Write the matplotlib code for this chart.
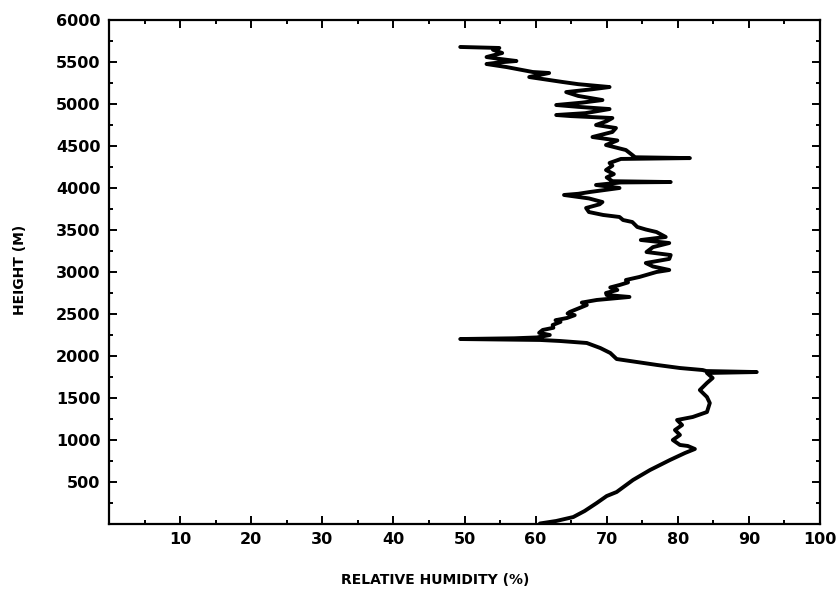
import matplotlib
matplotlib.use("Agg")
import matplotlib.pyplot as plt
from matplotlib.ticker import MultipleLocator, FixedLocator

# Relative humidity (%) vs height (m)
height = [0, 30, 77, 149, 244, 327, 375, 518, 637, 756, 839, 887, 923, 935, 994,
          1054, 1113, 1172, 1232, 1268, 1327, 1434, 1506, 1589, 1673, 1732, 1792,
          1803, 1815, 1827, 1851, 1887, 1958, 2030, 2089, 2149, 2173, 2185, 2196,
          2205, 2215, 2244, 2270, 2304, 2330, 2363, 2400, 2420, 2446, 2480, 2500,
          2518, 2560, 2601, 2630, 2661, 2697, 2720, 2744, 2780, 2810, 2839, 2870,
          2899, 2935, 2994, 3018, 3060, 3101, 3150, 3196, 3232, 3290, 3339, 3375,
          3411, 3470, 3500, 3530, 3589, 3613, 3649, 3673, 3708, 3756, 3800, 3827,
          3870, 3911, 3925, 3946, 3994, 4030, 4060, 4065, 4075, 4120, 4160, 4208,
          4260, 4292, 4340, 4350, 4360, 4387, 4446, 4506, 4560, 4601, 4661, 4708,
          4744, 4790, 4827, 4850, 4863, 4885, 4934, 4960, 4982, 5010, 5041, 5090,
          5136, 5170, 5196, 5230, 5256, 5315, 5363, 5375, 5434, 5470, 5490, 5506,
          5530, 5553, 5601, 5640, 5661, 5668, 5673]
rh = [60.6, 62.9, 65.3, 66.9, 68.6, 70.0, 71.4, 73.7, 76.1, 78.9, 81.0, 82.4, 81.4,
      80.3, 79.3, 80.3, 79.6, 80.6, 79.9, 82.1, 84.1, 84.5, 84.1, 83.1, 84.1, 84.9,
      84.1, 91.1, 84.0, 83.5, 80.3, 77.1, 71.4, 70.5, 69.1, 67.2, 63.4, 60.6, 49.4,
      57.0, 60.2, 62.0, 60.5, 61.0, 62.5, 62.4, 63.5, 62.8, 64.4, 65.5, 64.5, 64.8,
      66.0, 67.2, 66.5, 68.6, 73.2, 70.0, 69.9, 71.5, 70.5, 71.8, 73.0, 72.7, 74.6,
      77.0, 78.8, 76.5, 75.5, 78.8, 79.0, 75.6, 76.5, 78.8, 74.8, 78.3, 77.0, 75.5,
      74.3, 73.6, 72.3, 71.8, 69.5, 67.5, 67.1, 69.0, 69.4, 67.5, 64.0, 66.0, 67.6,
      71.8, 68.5, 72.0, 79.0, 70.8, 70.0, 71.0, 69.9, 70.8, 70.4, 72.0, 81.7, 74.0,
      73.6, 72.7, 69.9, 71.5, 68.0, 70.8, 71.3, 68.5, 70.0, 70.8, 65.0, 62.9, 67.0,
      70.4, 66.0, 62.9, 66.5, 69.4, 66.0, 64.3, 68.0, 70.4, 66.0, 63.8, 59.1, 61.9,
      59.6, 55.9, 53.1, 55.0, 57.3, 55.0, 53.1, 55.3, 54.0, 54.9, 52.0, 49.4]

x_ticks = [10, 20, 30, 40, 50, 60, 70, 80, 90, 100]
y_ticks = [500, 1000, 1500, 2000, 2500, 3000, 3500, 4000, 4500, 5000, 5500, 6000]

fig = plt.figure(figsize=(8.39, 6.01), dpi=100)
ax = fig.add_axes([109 / 839, 1 - 523.5 / 601, (820 - 109) / 839, (523.5 - 19.5) / 601])

ax.plot(rh, height, color="black", linewidth=2.8, solid_joinstyle="round",
        solid_capstyle="round")

ax.set_xlim(0, 100)
ax.set_ylim(0, 6000)
ax.xaxis.set_major_locator(FixedLocator(x_ticks))
ax.yaxis.set_major_locator(FixedLocator(y_ticks))
ax.xaxis.set_minor_locator(MultipleLocator(5))
ax.yaxis.set_minor_locator(MultipleLocator(250))

for s in ax.spines.values():
    s.set_linewidth(1.6)

ax.tick_params(which="both", direction="in", top=True, right=True, width=1.4)
ax.tick_params(which="major", length=6, labelsize=11.5, pad=6)
ax.tick_params(which="minor", length=3)
for lab in ax.get_xticklabels() + ax.get_yticklabels():
    lab.set_fontweight("bold")
    lab.set_family("DejaVu Sans")

fig.text(435 / 839, 1 - 580 / 601, "RELATIVE HUMIDITY (%)", ha="center", va="center",
         fontsize=10, fontweight="bold", family="DejaVu Sans")
fig.text(20 / 839, 1 - 270 / 601, "HEIGHT (M)", ha="center", va="center",
         rotation=90, fontsize=10, fontweight="bold", family="DejaVu Sans")

fig.savefig("out.png", dpi=100, facecolor="white")
